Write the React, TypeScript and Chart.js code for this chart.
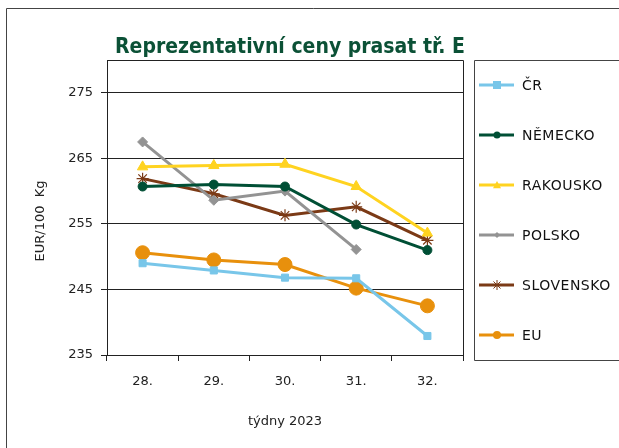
import React, { useEffect, useRef } from "react";
import { Chart, registerables } from "chart.js";

Chart.register(...registerables);

const categories = ["28.", "29.", "30.", "31.", "32."];
const yTicks = [235, 245, 255, 265, 275];

const cr = [249.0, 247.9, 246.8, 246.7, 237.9];
const nemecko = [260.7, 261.0, 260.7, 254.9, 251.0];
const rakousko = [263.7, 263.9, 264.1, 260.7, 253.6];
const polsko = [267.5, 258.6, 260.0, 251.1, null];
const slovensko = [261.9, 259.6, 256.3, 257.6, 252.5];
const eu = [250.6, 249.5, 248.8, 245.2, 242.5];

const seriesNames = ["ČR", "NĚMECKO", "RAKOUSKO", "POLSKO", "SLOVENSKO", "EU"];
const seriesColors = ["#78C6E9", "#004F35", "#FFD320", "#939393", "#7B3A16", "#E8900C"];
const seriesStyles = ["rect", "circle", "triangle", "rectRot", "star", "circle"];
const seriesRadius = [5, 4.5, 6, 5, 6, 7];
const legendRadius = [4, 3.5, 4, 3, 5, 4];

const titleText = "Reprezentativní ceny prasat tř. E";
const yTitle = "EUR/100  Kg";
const xTitle = "týdny 2023";

const FONT = "'DejaVu Sans', sans-serif";

function drawPoint(ctx: CanvasRenderingContext2D, style: string, r: number, x: number, y: number) {
  ctx.beginPath();
  if (style === "rect") {
    ctx.rect(x - r, y - r, 2 * r, 2 * r);
    ctx.fill();
  } else if (style === "circle") {
    ctx.arc(x, y, r, 0, Math.PI * 2);
    ctx.fill();
  } else if (style === "triangle") {
    ctx.moveTo(x, y - r);
    ctx.lineTo(x + r, y + r * 0.8);
    ctx.lineTo(x - r, y + r * 0.8);
    ctx.closePath();
    ctx.fill();
  } else if (style === "rectRot") {
    ctx.moveTo(x, y - r);
    ctx.lineTo(x + r, y);
    ctx.lineTo(x, y + r);
    ctx.lineTo(x - r, y);
    ctx.closePath();
    ctx.fill();
  } else if (style === "star") {
    for (let k = 0; k < 4; k++) {
      const a = (k * Math.PI) / 4;
      ctx.moveTo(x + Math.cos(a) * r, y + Math.sin(a) * r);
      ctx.lineTo(x - Math.cos(a) * r, y - Math.sin(a) * r);
    }
    ctx.stroke();
  }
}

const decorPlugin = {
  id: "decor",
  afterDraw(chart: any) {
    const ctx = chart.ctx;
    const ca = chart.chartArea;
    ctx.save();
    // outer border
    ctx.strokeStyle = "#444";
    ctx.lineWidth = 1;
    ctx.beginPath();
    ctx.moveTo(6.5, 460);
    ctx.lineTo(6.5, 8.5);
    ctx.lineTo(640, 8.5);
    ctx.stroke();
    // plot border
    ctx.strokeStyle = "#222";
    ctx.beginPath();
    ctx.rect(ca.left + 0.5, ca.top + 0.5, ca.right - ca.left, ca.bottom - ca.top);
    ctx.stroke();
    // title
    ctx.fillStyle = "#0B5136";
    ctx.font = "bold 21px 'DejaVu Sans Condensed', sans-serif";
    ctx.textAlign = "center";
    ctx.textBaseline = "alphabetic";
    ctx.fillText(titleText, 290, 53);
    // y title
    ctx.fillStyle = "#222";
    ctx.font = "13px " + FONT;
    ctx.save();
    ctx.translate(41, 221);
    ctx.rotate(-Math.PI / 2);
    ctx.textBaseline = "middle";
    ctx.fillText(yTitle, 0, 0);
    ctx.restore();
    // x title
    ctx.textBaseline = "middle";
    ctx.fillText(xTitle, 285, 422);
    // legend box
    ctx.strokeStyle = "#444";
    ctx.beginPath();
    ctx.rect(474.5, 60.5, 200, 300);
    ctx.stroke();
    chart.data.datasets.forEach((ds: any, i: number) => {
      const y = 85 + i * 50;
      ctx.strokeStyle = ds.borderColor;
      ctx.lineWidth = 3;
      ctx.beginPath();
      ctx.moveTo(479, y);
      ctx.lineTo(514, y);
      ctx.stroke();
      ctx.lineWidth = 1;
      ctx.fillStyle = ds.backgroundColor;
      ctx.strokeStyle = ds.borderColor;
      drawPoint(ctx, ds.pointStyle, legendRadius[i], 497, y);
      ctx.fillStyle = "#111";
      ctx.font = "14px " + FONT;
      (ctx as any).letterSpacing = "0.5px";
      ctx.textAlign = "left";
      ctx.textBaseline = "middle";
      ctx.fillText(ds.label, 522, y + 1);
      (ctx as any).letterSpacing = "0px";
    });
    ctx.restore();
  },
};

export default function App() {
  const ref = useRef<HTMLCanvasElement>(null);
  useEffect(() => {
    if (!ref.current) return;
    const values = [cr, nemecko, rakousko, polsko, slovensko, eu];
    const chart = new Chart(ref.current, {
      type: "line",
      data: {
        labels: categories,
        datasets: values.map((v, i) => ({
          label: seriesNames[i],
          data: v,
          borderColor: seriesColors[i],
          backgroundColor: seriesColors[i],
          pointBackgroundColor: seriesColors[i],
          pointBorderColor: seriesColors[i],
          pointStyle: seriesStyles[i] as any,
          pointRadius: seriesRadius[i],
          pointBorderWidth: seriesStyles[i] === "star" ? 1.2 : 1,
          borderWidth: 3,
          tension: 0,
          spanGaps: false,
        })),
      },
      options: {
        responsive: false,
        animation: false,
        layout: { padding: { left: 0, top: 60, right: 156, bottom: 0 } },
        plugins: { legend: { display: false }, title: { display: false }, tooltip: { enabled: false } },
        scales: {
          x: {
            offset: true,
            grid: { offset: true, drawOnChartArea: false, color: "#222", tickLength: 6 },
            border: { display: true, color: "#222" },
            ticks: { color: "#222", font: { family: FONT, size: 13 }, padding: 13 },
            afterFit: (s: any) => {
              s.height = 93;
            },
          },
          y: {
            min: 235,
            max: 280,
            afterBuildTicks: (s: any) => {
              s.ticks = yTicks.map((v) => ({ value: v }));
            },
            grid: { color: "#222", tickLength: 6 },
            border: { display: true, color: "#222" },
            ticks: { color: "#222", font: { family: FONT, size: 13 }, padding: 8 },
            afterFit: (s: any) => {
              s.width = 107;
            },
          },
        },
      },
      plugins: [decorPlugin],
    });
    return () => chart.destroy();
  }, []);
  return (
    <div style={{ position: "fixed", left: 0, top: 0, width: 619, height: 448, background: "#fff" }}>
      <canvas ref={ref} width={619} height={448} />
    </div>
  );
}
